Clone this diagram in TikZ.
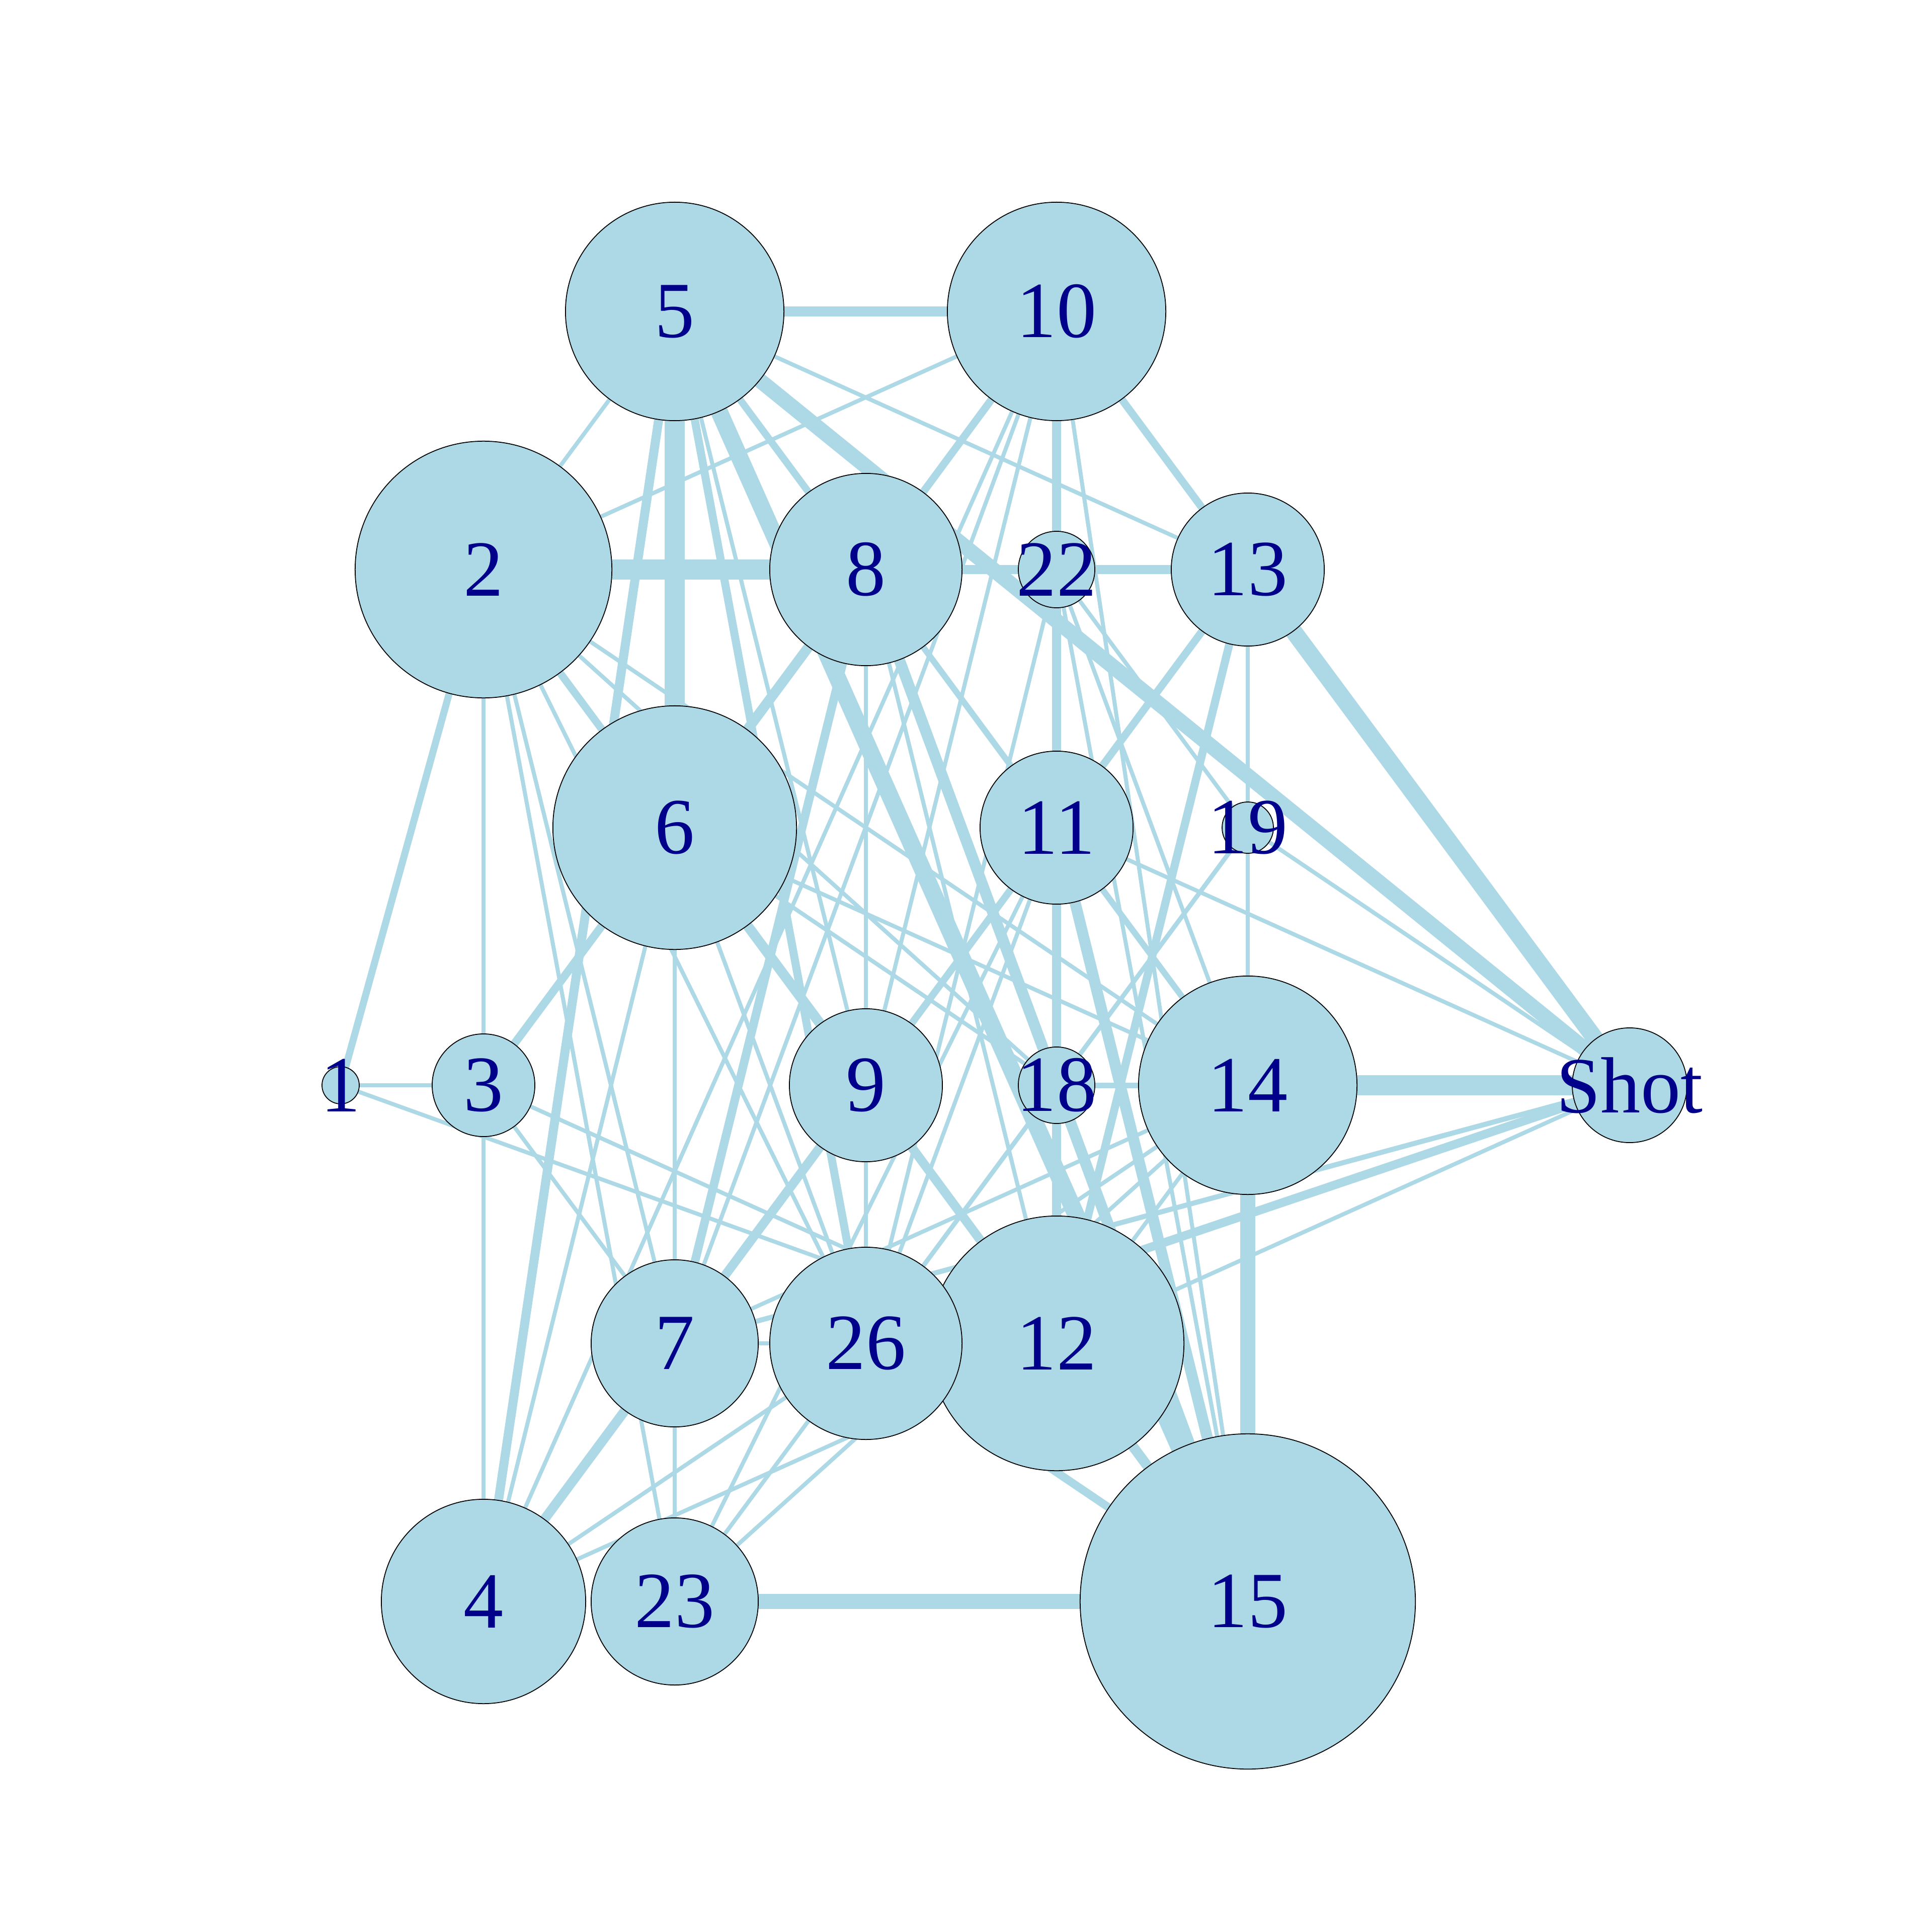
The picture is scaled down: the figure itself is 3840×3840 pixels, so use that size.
\documentclass[tikz,border=0pt]{standalone}
\usepackage{fontspec}
\setmainfont{Liberation Serif}
\pgfdeclarelayer{background}
\pgfdeclarelayer{canvas}
\pgfsetlayers{canvas,background,main}
\definecolor{lb}{HTML}{ADD8E6}
\definecolor{db}{HTML}{00008B}
\begin{document}
\begin{tikzpicture}[x=0.01cm,y=-0.01cm,
  lbl/.style={text=db,font=\fontsize{45}{54}\selectfont,inner sep=0pt},
  vtx/.style={circle,draw=black,line width=0.5pt,fill=lb,inner sep=0pt,minimum size=#1},
  edge/.style={draw=lb,line cap=butt}]
\begin{pgfonlayer}{canvas}
\fill[white] (0,0) rectangle (3840,3840);
\end{pgfonlayer}
\useasboundingbox (0,0) rectangle (3840,3840);
% nodes
\node[vtx=0.74cm, label={[lbl]center:1}] (n1) at (677,2157) {};
\node[vtx=5.10cm, label={[lbl]center:2}] (n2) at (961,1132) {};
\node[vtx=2.04cm, label={[lbl]center:3}] (n3) at (961,2157) {};
\node[vtx=4.06cm, label={[lbl]center:4}] (n4) at (961,3183) {};
\node[vtx=4.34cm, label={[lbl]center:5}] (n5) at (1341,619) {};
\node[vtx=4.84cm, label={[lbl]center:6}] (n6) at (1341,1645) {};
\node[vtx=3.32cm, label={[lbl]center:7}] (n7) at (1341,2670) {};
\node[vtx=3.82cm, label={[lbl]center:8}] (n8) at (1721,1132) {};
\node[vtx=3.04cm, label={[lbl]center:9}] (n9) at (1721,2157) {};
\node[vtx=4.34cm, label={[lbl]center:10}] (n10) at (2100,619) {};
\node[vtx=3.04cm, label={[lbl]center:11}] (n11) at (2100,1645) {};
\node[vtx=5.06cm, label={[lbl]center:12}] (n12) at (2100,2670) {};
\node[vtx=3.04cm, label={[lbl]center:13}] (n13) at (2480,1132) {};
\node[vtx=4.34cm, label={[lbl]center:14}] (n14) at (2480,2157) {};
\node[vtx=6.66cm, label={[lbl]center:15}] (n15) at (2480,3183) {};
\node[vtx=1.52cm, label={[lbl]center:18}] (n18) at (2100,2157) {};
\node[vtx=1.02cm, label={[lbl]center:19}] (n19) at (2480,1645) {};
\node[vtx=1.52cm, label={[lbl]center:22}] (n22) at (2100,1132) {};
\node[vtx=3.32cm, label={[lbl]center:23}] (n23) at (1341,3183) {};
\node[vtx=3.82cm, label={[lbl]center:26}] (n26) at (1721,2670) {};
\node[vtx=2.28cm, label={[lbl]center:Shot}] (nShot) at (3239,2157) {};
% edges
\begin{pgfonlayer}{background}
\foreach \a/\b/\w in {
  2/8/0.40cm, 5/6/0.40cm, 14/Shot/0.40cm, 5/15/0.34cm, 13/Shot/0.34cm,
  5/Shot/0.30cm, 14/15/0.30cm, 23/15/0.30cm, 8/15/0.22cm, 11/15/0.22cm,
  6/9/0.20cm, 6/8/0.20cm, 12/15/0.20cm, 5/10/0.19cm, 4/7/0.19cm,
  7/9/0.18cm, 9/12/0.18cm, 10/12/0.18cm, 8/13/0.18cm, 4/5/0.18cm,
  7/8/0.17cm, 26/Shot/0.17cm, 26/15/0.16cm, 12/13/0.16cm, 3/6/0.16cm,
  5/26/0.16cm, 11/13/0.15cm, 2/6/0.15cm, 8/10/0.15cm, 10/13/0.15cm,
  5/8/0.14cm, 1/2/0.14cm, 9/11/0.14cm, 8/11/0.12cm, 11/14/0.12cm,
  14/18/0.11cm, 7/Shot/0.10cm, 19/26/0.09cm,
  1/3/0.08cm, 1/12/0.08cm, 2/3/0.08cm, 2/5/0.08cm, 2/10/0.08cm,
  2/14/0.08cm, 2/18/0.08cm, 2/26/0.08cm, 2/23/0.08cm, 2/7/0.08cm,
  3/4/0.08cm, 3/7/0.08cm, 3/12/0.08cm, 5/13/0.08cm, 5/9/0.08cm,
  6/18/0.08cm, 6/14/0.08cm, 6/4/0.08cm, 6/7/0.08cm, 6/26/0.08cm,
  4/10/0.08cm, 4/26/0.08cm, 4/12/0.08cm, 7/23/0.08cm, 7/26/0.08cm,
  7/14/0.08cm, 7/10/0.08cm, 8/9/0.08cm, 8/12/0.08cm, 10/9/0.08cm,
  10/15/0.08cm, 13/14/0.08cm, 19/Shot/0.08cm, 11/Shot/0.08cm, 12/Shot/0.08cm,
  22/26/0.08cm, 22/14/0.08cm, 22/19/0.08cm, 22/15/0.08cm, 11/23/0.08cm,
  11/26/0.08cm, 23/26/0.08cm, 23/14/0.08cm, 14/26/0.08cm, 12/14/0.08cm,
  9/26/0.08cm}
  \draw[edge, line width=\w] (n\a.center) -- (n\b.center);
\end{pgfonlayer}
\end{tikzpicture}
\end{document}
